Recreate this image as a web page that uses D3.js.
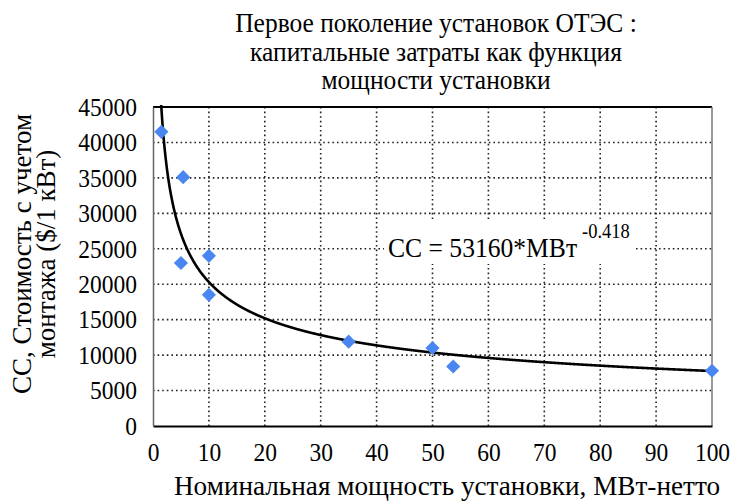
<!DOCTYPE html>
<html><head><meta charset="utf-8">
<script src="https://cdn.jsdelivr.net/npm/d3@7"></script>
<style>
body{margin:0;background:#fff;}
</style></head>
<body>
<svg id="c" width="735" height="502"></svg>
<script>
const titleLines = ["Первое поколение установок ОТЭС :", "капитальные затраты как функция", "мощности установки"];
const xLabel = "Номинальная мощность установки, МВт-нетто";
const yLabelLines = ["CC, Стоимость с учетом", "монтажа ($/1 кВт)"];
const capacityMW = [1.5, 5.4, 5, 10, 10, 35, 50, 53.7, 100];
const costPerKW = [41500, 35100, 23000, 24000, 18500, 11900, 11000, 8400, 7800];
const xTicks = [0,10,20,30,40,50,60,70,80,90,100];
const yTicks = [0,5000,10000,15000,20000,25000,30000,35000,40000,45000];
const fitA = 53160, fitB = -0.418;
const eqMain = "CC = 53160*MBт", eqExp = "-0.418";

const FONT = 'Liberation Serif';
const svg = d3.select("#c");
const L=153, R=712, T=107, B=426;
const x = d3.scaleLinear().domain([0,100]).range([L,R]);
const y = d3.scaleLinear().domain([0,45000]).range([B,T]);

// grid
svg.append("g").selectAll("line").data(xTicks.filter(v=>v>0&&v<100)).join("line")
  .attr("x1",d=>x(d)).attr("x2",d=>x(d)).attr("y1",T).attr("y2",B)
  .attr("stroke","#222").attr("stroke-width",1.6).attr("stroke-dasharray","1.6,3");
svg.append("g").selectAll("line").data(yTicks.filter(v=>v>0&&v<45000)).join("line")
  .attr("x1",L).attr("x2",R).attr("y1",d=>y(d)).attr("y2",d=>y(d))
  .attr("stroke","#222").attr("stroke-width",1.6).attr("stroke-dasharray","1.6,3");

// frame
svg.append("line").attr("x1",L).attr("x2",R).attr("y1",T).attr("y2",T).attr("stroke","#000").attr("stroke-width",2);
svg.append("line").attr("x1",R).attr("x2",R).attr("y1",T).attr("y2",B).attr("stroke","#777").attr("stroke-width",1.5);

// axes
const xAxis = svg.append("g").attr("transform",`translate(0,${B})`)
  .call(d3.axisBottom(x).tickValues(xTicks).tickSize(0).tickPadding(19).tickFormat(d3.format("d")));
xAxis.attr("font-family",FONT).attr("font-size",23.5);
xAxis.select(".domain").attr("stroke","#000").attr("stroke-width",2);
xAxis.selectAll("text").attr("fill","#000").attr("dy",0).attr("y",31.5).attr("transform","scale(1,1.1)");

const yAxis = svg.append("g").attr("transform",`translate(${L},0)`)
  .call(d3.axisLeft(y).tickValues(yTicks).tickSize(0).tickPadding(16).tickFormat(d3.format("d")));
yAxis.attr("font-family",FONT).attr("font-size",23.5);
yAxis.select(".domain").attr("stroke","#666").attr("stroke-width",1.5);
yAxis.selectAll("text").attr("fill","#000").attr("transform","scale(1,1.1)");

// clip
svg.append("defs").append("clipPath").attr("id","pc").append("rect")
  .attr("x",L).attr("y",T-2).attr("width",R-L+2).attr("height",B-T+2);

// fit curve
const fitPts = d3.range(1.2, 100.01, 0.1).map(v=>[v, fitA*Math.pow(v,fitB)]);
svg.append("path").datum(fitPts).attr("clip-path","url(#pc)")
  .attr("d", d3.line().x(d=>x(d[0])).y(d=>y(d[1])).curve(d3.curveMonotoneX))
  .attr("fill","none").attr("stroke","#000").attr("stroke-width",2.6);

// equation box
const eq = svg.append("g");
eq.append("rect").attr("x",384).attr("y",220).attr("width",252).attr("height",44).attr("fill","#fff");
const eqT = eq.append("text").attr("transform","translate(388,257) scale(1,1.08)").attr("font-family",FONT).attr("font-size",25.6);
eqT.append("tspan").text(eqMain);
eqT.append("tspan").attr("dy",-18).attr("dx",5).attr("font-size",18.5).text(eqExp);

// points
svg.append("g").selectAll("rect").data(capacityMW.map((v,i)=>[v,costPerKW[i]])).join("rect")
  .attr("x",-5).attr("y",-5).attr("width",10).attr("height",10)
  .attr("transform",d=>`translate(${x(d[0])},${y(d[1])}) rotate(45)`)
  .attr("fill","#4a86f0");

// title
svg.append("g").selectAll("text").data(titleLines).join("text")
  .attr("transform",(d,i)=>`translate(436,${32+i*28.5}) scale(1,1.08)`)
  .attr("text-anchor","middle").attr("font-family",FONT).attr("font-size",25.5).text(d=>d);

// x label
svg.append("text").attr("transform","translate(447,495)").attr("text-anchor","middle")
  .attr("font-family",FONT).attr("font-size",27.2).text(xLabel);

// y label
const yl = svg.append("text").attr("transform","translate(0,254) rotate(-90)").attr("text-anchor","middle").attr("font-family",FONT).attr("font-size",27);
yl.selectAll("tspan").data(yLabelLines).join("tspan").attr("x",0).attr("y",(d,i)=>31+i*24).text(d=>d);
</script>
</body></html>
